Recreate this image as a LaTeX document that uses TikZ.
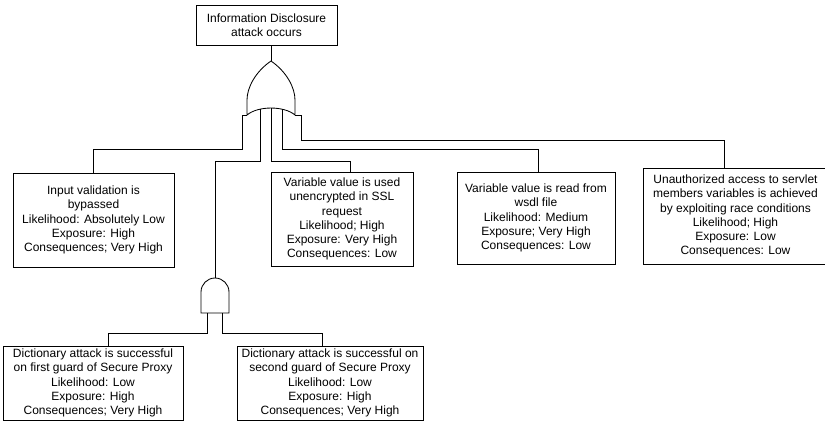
\documentclass[tikz,border=0pt]{standalone}
\usepackage{fontspec}
\setmainfont{Liberation Sans}
\begin{document}
\begin{tikzpicture}[x=1pt,y=-1pt,line width=0.85pt,
  evt/.style={draw, align=center, inner sep=0pt, font=\fontsize{12}{14.2}\selectfont}]
\useasboundingbox (0,0) rectangle (825,424);
% event boxes
\node[evt, minimum width=141, minimum height=40] (top) at (266.5,25) {Information Disclosure\\attack occurs};
\node[evt, minimum width=161, minimum height=94] (b1) at (93.5,220) {Input validation is\\bypassed\\Likelihood: Absolutely Low\\Exposure: High\\Consequences; Very High};
\node[evt, minimum width=142, minimum height=94] (b3) at (342,219) {Variable value is used\\unencrypted in SSL\\request\\Likelihood; High\\Exposure: Very High\\Consequences: Low};
\node[evt, minimum width=158, minimum height=92] (b4) at (536,218) {Variable value is read from\\wsdl file\\Likelihood: Medium\\Exposure; Very High\\Consequences: Low};
\node[evt, minimum width=185, minimum height=96] (b5) at (735.5,216) {Unauthorized access to servlet\\members variables is achieved\\by exploiting race conditions\\Likelihood; High\\Exposure: Low\\Consequences: Low};
\node[evt, minimum width=180, minimum height=74] (b6) at (93,383) {Dictionary attack is successful\\on first guard of Secure Proxy\\Likelihood: Low\\Exposure: High\\Consequences; Very High};
\node[evt, minimum width=186, minimum height=74] (b7) at (330,383) {Dictionary attack is successful on\\second guard of Secure Proxy\\Likelihood: Low\\Exposure: High\\Consequences; Very High};
% OR gate
\coordinate (ortip) at (271,61);
\coordinate (i1) at (247,115);
\coordinate (i2) at (260,109);
\coordinate (i3) at (271,108);
\coordinate (i4) at (282,109);
\coordinate (i5) at (295,115);
\draw (ortip) .. controls (255,72) and (247,88) .. (247,100) -- (i1)
  .. controls (258,105.7) and (284,105.7) .. (i5) -- (295,100)
  .. controls (295,88) and (287,72) .. (ortip);
% AND gate
\coordinate (andtop) at (215,278);
\coordinate (andl) at (207,313);
\coordinate (andr) at (222,313);
\draw (201,313) -- (201,292) arc (180:360:14) -- (229,313) -- cycle;
% connectors
\draw (top.south -| ortip) -- (ortip);
\draw (i1) -- ++(-5,0) -- ++(0,34) -| (b1.north);
\draw (i2) -- ++(0,52) -| (andtop);
\draw (i3) -- ++(0,53) -| ([xshift=8]b3.north);
\draw (i4) -- ++(0,40) -| ([xshift=2]b4.north);
\draw (i5) -- ++(6,0) -- ++(0,25) -| ([xshift=-11.5]b5.north);
\draw (andl) -- ++(0,20) -| ([xshift=15]b6.north);
\draw (andr) -- ++(0,20) -| ([xshift=-8]b7.north);
\end{tikzpicture}
\end{document}
